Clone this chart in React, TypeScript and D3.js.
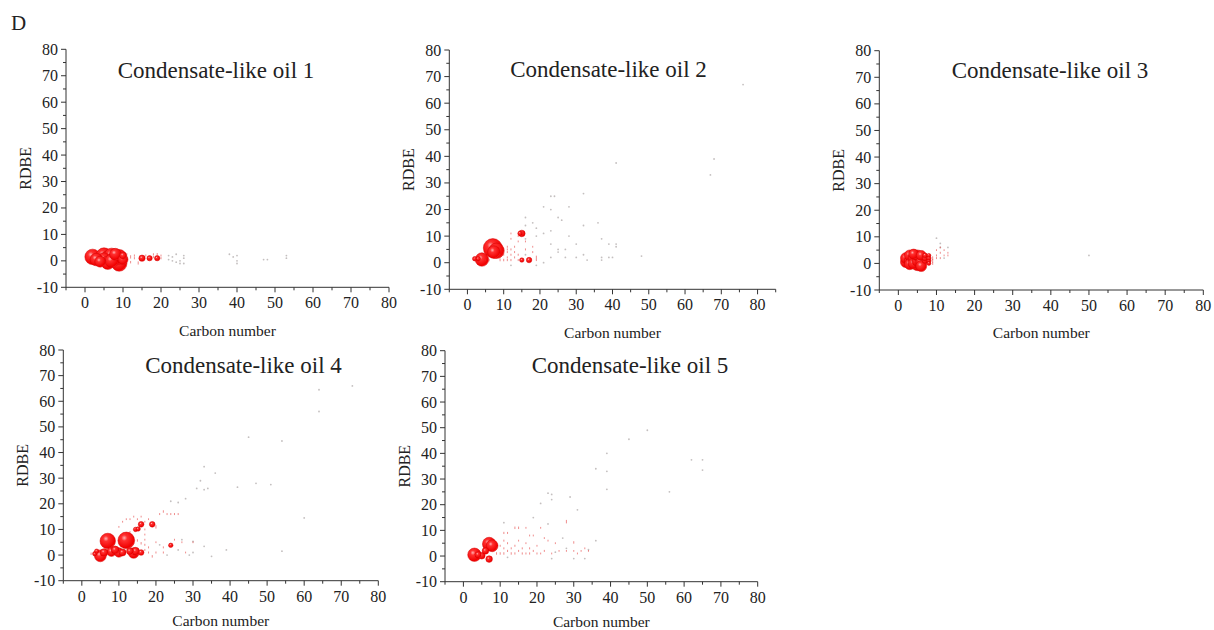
import React from "react";
import * as d3 from "d3";

// ---------- DATA ----------
// bubbles: [carbon number, RDBE, relative abundance]
const oil1Bubbles: [number, number, number][] = [
  [2, 1.5, 60], [3, 0.5, 40], [4, -0.3, 30], [5, 2, 60], [5, 0.5, 45], [6, 1, 55], [6, -0.7, 45],
  [7, 2, 55], [7, 0, 45], [8, 1, 50], [8, 2.5, 35], [9, 1.5, 55], [9, -1, 60], [10, 0.5, 25], [10, 2, 12],
  [11, 1.5, 2], [11, 2.5, 1.2], [12, 1.5, 2.8], [12, -0.5, 1.5], [13, 2, 1.2], [13, 1, 1.2], [14, -0.8, 2.5],
  [15, 1, 10], [16, 2, 1.2], [17, 1, 7], [18, 1.5, 1.5], [18, 2.5, 1], [19, 1, 7], [19, 2.5, 1.5], [20, 1, 1.2], [20, 2, 1],
];
const oil1Specks: [number, number][] = [
  [22, 2], [22, 0.5], [23, 1.5], [24, 2.5], [25, 0], [25, -1], [26, 1], [26, -1], [24, -0.5], [23, 0], [26, 2],
  [38, 2.5], [39, 1.5], [40, 0], [40, -1], [40, 2], [47, 0.5], [48, 0.5], [53, 2], [53, 1],
];

const oil2Bubbles: [number, number, number][] = [
  [7, 5.5, 90], [8, 4.5, 60], [7.3, 4, 40], [4, 1.2, 45], [2, 1.5, 5], [3, 1.5, 5], [15, 11, 11], [14.5, 11, 5],
  [15, 1, 5], [17, 1, 7.5], [19, 2, 3],
  [5, 1, 1.2], [6, 1, 1.5], [9, 1, 1.5], [9, 2, 1], [9, 3, 1], [9, 5, 1.2], [10, 1, 1.5], [10, 3, 1], [10, 4, 1.2],
  [10, 5, 1], [11, 1, 1.2], [11, 2, 1], [11, 4, 1], [11, 5, 1], [11, 6, 1], [12, 1, 1.2], [12, 3, 1], [12, 5, 1],
  [13, 2, 1], [13, 4, 1], [13, 6, 1], [14, 1, 1], [14, 3, 1], [12, 9, 0.8], [12, 11, 0.8], [14, 8, 0.8], [14, 10, 0.8],
  [16, 5, 1], [16, 8, 0.8], [18, 4, 1], [18, 6, 0.8], [19, 1, 1],
];
const oil2Specks: [number, number][] = [
  [16, 17], [16, 14], [16, 9], [16, 3], [18, 15], [19, 13], [19, 10], [21, 21], [21, 11], [21, 0], [23, 25], [24, 25],
  [23, 20], [23, 12], [23, 7], [23, 2], [25, 17], [25, 5], [25, 4], [26, 16], [28, 21], [28, 10], [30, 7], [30, 2],
  [32, 26], [32, 14], [32, 3], [36, 15], [37, 9], [37, 2], [37, 1], [39, 7], [39, 2], [40, 2], [41, 6], [41, 7],
  [41, 37.5], [48, 2.5], [67, 33], [68, 39], [76, 67], [12, -1], [19, -1], [27, 2], [27, 5], [33, 1],
];

const oil3Bubbles: [number, number, number][] = [
  [2, 0.5, 30], [2, 2, 30], [3, 1, 30], [3, 3, 30], [3, -0.3, 30], [4, 2, 30], [4, 0, 30], [4, 3.5, 25],
  [5, 1, 30], [5, 3, 30], [5, -0.5, 35], [6, 2, 30], [6, 0.5, 30], [6, 3, 25], [6, -1, 30],
  [7, 1, 8], [7, 2, 8], [7, 3, 6], [8, 1, 5], [8, 2, 5], [8, 3, 4], [8, 0, 4], [9, 1, 3], [9, 2, 3], [9, 0, 2],
  [10, 2, 1], [10, 3, 1], [10, 5, 0.8], [11, 2, 1], [11, 4, 1], [11, 6, 0.8], [12, 3, 0.8], [12, 5, 0.8], [13, 3, 0.8], [13, 4, 0.8],
];
const oil3Specks: [number, number][] = [[10, 9.5], [11, 7.5], [11, 6], [50, 3], [12, 2], [13, 6]];

const oil4Bubbles: [number, number, number][] = [
  [7, 5.5, 60], [12, 5.7, 70], [5, -0.3, 35], [14, 0.8, 28], [14.5, 1.5, 15], [8, 1.3, 22], [10, 1, 22], [9, 2, 15],
  [6, 1, 15], [11, 1, 12], [13, 1.5, 12], [16, 1, 8], [3.5, 0.5, 5], [2.5, 0.5, 1.5], [4, 1.5, 5], [19, 12, 8],
  [16, 12, 8], [14.5, 10, 5], [15.2, 10.2, 5], [20, 11, 3], [24, 3.8, 5], [15, 5.7, 1.5], [16, 4.6, 1.5], [19, -0.5, 1.5],
  [22, 17, 1.5],
  [17, 2, 1], [17, 4, 1], [17, 6, 0.8], [17, 8, 0.8], [17, 10, 0.8], [17, 13, 0.8], [18, 1, 1], [18, 3, 1], [20, 1, 1],
  [20, 5, 0.8], [21, 16, 1], [22, 3, 1], [23, 16, 1], [24, 16, 1], [25, 16, 1], [26, 16, 1], [25, 6, 0.8], [27, 5, 0.8],
  [28, 1, 0.8], [30, 5, 0.8], [12, 14, 0.8], [10, 11, 0.8], [11, 13, 0.8], [13, 14, 0.8], [14, 15, 0.8], [15, 14, 0.8],
  [16, 15, 0.8], [18, 14, 0.8], [22, 1, 1], [12, 8, 0.8], [13, 9, 0.8],
];
const oil4Specks: [number, number][] = [
  [24, 21], [26, 20.5], [28, 22], [31, 26], [32, 29], [33, 34.5], [36, 32], [33, 25.5], [34, 26], [42, 26.5], [47, 28],
  [51, 27.5], [45, 46], [54, 44.5], [64, 64.5], [64, 56], [73, 66], [60, 14.5], [54, 1.5], [35, -0.5], [39, 2], [33, 3.4],
  [30, 5.3], [27, 6], [29, 0], [26, 2], [23, 0], [21, 4], [30, 1],
];

const oil5Bubbles: [number, number, number][] = [
  [3, 0.5, 45], [7, 4.7, 45], [7.8, 4, 35], [5, 0.1, 11], [7, -1.2, 11], [6, 2, 11], [4, 0.5, 10],
  [28, 13.4, 3], [30, 5.3, 1.5], [14, 11, 1.5], [15, 11, 1.5], [11, 9, 1.2], [12, 9, 1], [8, 2, 1.5], [9, 1, 1.5],
  [9, 3, 1], [10, 1, 1.5], [10, 4, 1], [11, 1, 1.5], [11, 3, 1], [11, 6, 1], [12, 2, 1.2], [12, 5, 1], [13, 1, 1.5],
  [13, 3, 1], [14, 1, 1.2], [14, 4, 1], [15, 2, 1], [15, 6, 0.8], [16, 1, 1.2], [16, 3, 1], [17, 1, 1], [17, 5, 0.8],
  [18, 1, 1.2], [18, 3, 1], [18, 8, 0.8], [19, 2, 1], [20, 1, 1], [20, 4, 0.8], [21, 1, 0.8], [22, 2, 1], [22, 7, 0.8],
  [23, 6, 0.8], [24, 1, 0.8], [25, 5, 0.8], [26, 2, 0.8], [28, 2, 0.8], [30, 2, 0.8], [31, 1, 0.8], [32, 2, 0.8],
  [33, 3, 0.8], [34, 2, 0.8], [17, 11, 0.8], [19, 8, 0.8], [21, 11, 0.8],
];
const oil5Specks: [number, number][] = [
  [11, 13], [19, 15], [21, 20.5], [24, 24], [23, 24.5], [24, 22], [29, 23], [31, 18], [36, 34], [39, 40], [39, 33],
  [39, 26], [45, 45.5], [50, 49], [56, 25], [62, 37.5], [65, 37.5], [65, 33.5], [36, 6], [30, -1], [33, -1], [28, 3],
  [25, 1.5], [34, 2.5], [23, 12.5], [27, 7], [24, -1], [12, -0.5],
];

const titles = ["Condensate-like oil 1", "Condensate-like oil 2", "Condensate-like oil 3", "Condensate-like oil 4", "Condensate-like oil 5"];
const xMajorTicks = [0, 10, 20, 30, 40, 50, 60, 70, 80];
const yMajorTicks = [-10, 0, 10, 20, 30, 40, 50, 60, 70, 80];
const xLabel = "Carbon number";
const yLabel = "RDBE";
const panelLetter = "D";

// ---------- LAYOUT ----------
const panels = [
  { bubbles: oil1Bubbles, specks: oil1Specks, x0: 66, x1: 389, xMax: 80, yTop: 49.3, yBot: 287.3, tx: 216, ty: 78, lx: 49 },
  { bubbles: oil2Bubbles, specks: oil2Specks, x0: 449.3, x1: 775.7, xMax: 85, yTop: 50, yBot: 289.3, tx: 608.5, ty: 77, lx: 48.5 },
  { bubbles: oil3Bubbles, specks: oil3Specks, x0: 879.3, x1: 1203.3, xMax: 80, yTop: 50.7, yBot: 290, tx: 1050, ty: 78, lx: 48 },
  { bubbles: oil4Bubbles, specks: oil4Specks, x0: 63.3, x1: 378.3, xMax: 80, yTop: 350, yBot: 580.7, tx: 243.5, ty: 373, lx: 45.5 },
  { bubbles: oil5Bubbles, specks: oil5Specks, x0: 445, x1: 757.7, xMax: 80, yTop: 350.7, yBot: 581.7, tx: 630, ty: 373, lx: 45.5 },
];

const rScale = d3.scaleSqrt().domain([0, 100]).range([0, 10]);
const FONT = "'Liberation Serif', 'Times New Roman', serif";
const TXT = "#222";
const AX = "#333";

function Panel({ p, i }: { p: (typeof panels)[number]; i: number }) {
  const x = d3.scaleLinear().domain([-5, p.xMax]).range([p.x0, p.x1]);
  const y = d3.scaleLinear().domain([-10, 80]).range([p.yBot, p.yTop]);
  const xMinor = d3.range(-5, p.xMax + 0.1, 5).filter((v) => v % 10 !== 0);
  const yMinor = d3.range(-5, 80, 5).filter((v) => v % 10 !== 0);
  const sorted = [...p.bubbles].sort((a, b) => b[2] - a[2]);
  const yMid = (p.yTop + p.yBot) / 2;
  return (
    <g>
      <text x={p.tx} y={p.ty} textAnchor="middle" fontFamily={FONT} fontSize={23} fill={TXT}>{titles[i]}</text>
      {p.specks.map((s, k) => (
        <circle key={"s" + k} cx={x(s[0])} cy={y(s[1])} r={0.9} fill="#8a7f7f" opacity={0.5} />
      ))}
      {sorted.map((b, k) => {
        const r = rScale(b[2]);
        return r < 1.8 ? (
          <rect key={"b" + k} x={x(b[0]) - 0.5} y={y(b[1]) - r} width={1} height={2 * r} fill="#e23030" opacity={0.55} />
        ) : (
          <circle key={"b" + k} cx={x(b[0])} cy={y(b[1])} r={r} fill="url(#ball)" stroke="#d40000" strokeWidth={0.5} />
        );
      })}
      {/* axes */}
      <line x1={p.x0} x2={p.x1} y1={p.yBot} y2={p.yBot} stroke={AX} strokeWidth={1} />
      <line x1={p.x0} x2={p.x0} y1={p.yBot} y2={p.yTop} stroke={AX} strokeWidth={1} />
      {xMajorTicks.map((t) => (
        <g key={"xt" + t}>
          <line x1={x(t)} x2={x(t)} y1={p.yBot} y2={p.yBot + 5} stroke={AX} />
          <text x={x(t)} y={p.yBot + 21} textAnchor="middle" fontFamily={FONT} fontSize={16} fill={TXT}>{t}</text>
        </g>
      ))}
      {xMinor.map((t) => (
        <line key={"xm" + t} x1={x(t)} x2={x(t)} y1={p.yBot} y2={p.yBot + 3} stroke={AX} />
      ))}
      {yMajorTicks.map((t) => (
        <g key={"yt" + t}>
          <line x1={p.x0 - 5} x2={p.x0} y1={y(t)} y2={y(t)} stroke={AX} />
          <text x={p.x0 - 8} y={y(t) + 5.5} textAnchor="end" fontFamily={FONT} fontSize={16} fill={TXT}>{t}</text>
        </g>
      ))}
      {yMinor.map((t) => (
        <line key={"ym" + t} x1={p.x0 - 3} x2={p.x0} y1={y(t)} y2={y(t)} stroke={AX} />
      ))}
      <text x={(p.x0 + p.x1) / 2} y={p.yBot + p.lx} textAnchor="middle" fontFamily={FONT} fontSize={15.5} fill={TXT}>{xLabel}</text>
      <text transform={`translate(${p.x0 - 35},${yMid}) rotate(-90)`} textAnchor="middle" fontFamily={FONT} fontSize={16} fill={TXT}>{yLabel}</text>
    </g>
  );
}

export default function App() {
  return (
    <svg width={1214} height={630} style={{ position: "absolute", left: 0, top: 0, background: "#fff" }}>
      <defs>
        <radialGradient id="ball" cx="0.38" cy="0.35" r="0.7">
          <stop offset="0" stopColor="#ffb3b3" />
          <stop offset="0.25" stopColor="#ff3030" />
          <stop offset="0.85" stopColor="#f00000" />
          <stop offset="1" stopColor="#ff4040" />
        </radialGradient>
      </defs>
      <rect x={0} y={0} width={1214} height={630} fill="#fff" />
      <text x={11} y={30} fontFamily={FONT} fontSize={21} fill={TXT}>{panelLetter}</text>
      {panels.map((p, i) => (
        <Panel key={i} p={p} i={i} />
      ))}
    </svg>
  );
}
